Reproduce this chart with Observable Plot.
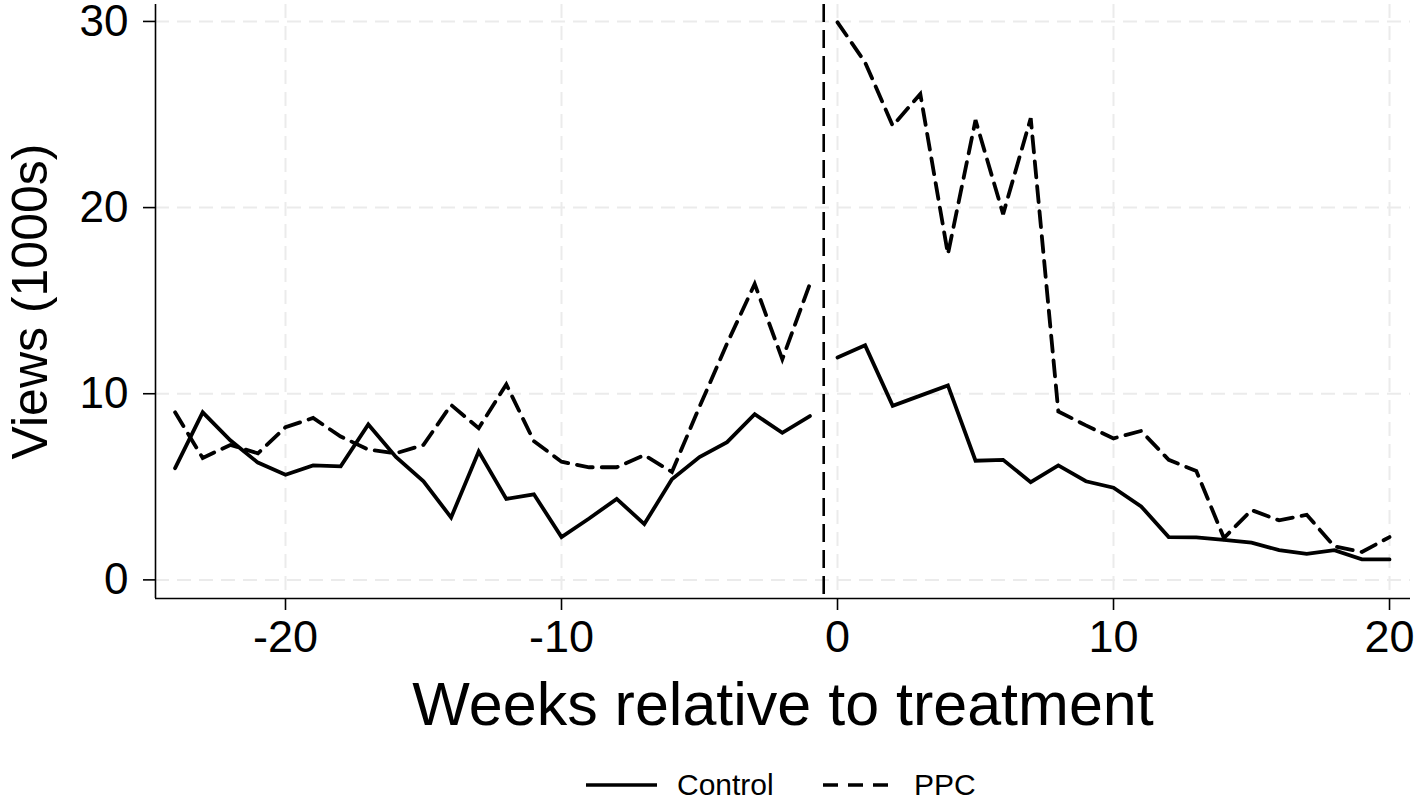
<!DOCTYPE html>
<html>
<head>
<meta charset="utf-8">
<script src="https://cdn.jsdelivr.net/npm/d3@7"></script>
<script src="https://cdn.jsdelivr.net/npm/@observablehq/plot@0.6"></script>
<style>
  html, body { margin: 0; padding: 0; background: #fff; }
  body { width: 1426px; font-family: "Liberation Sans", Arial, Helvetica, sans-serif; }
  #legend { position: relative; height: 61px; }
  #legend .item { position: absolute; top: 18px; display: flex; align-items: center; font-size: 30px; color: #000; }
  #legend svg { margin-right: 20px; }
</style>
</head>
<body>
<div id="chart"></div>
<div id="legend"></div>
<script>
const weeks = [-24,-23,-22,-21,-20,-19,-18,-17,-16,-15,-14,-13,-12,-11,-10,-9,-8,-7,-6,-5,-4,-3,-2,-1,
               0,1,2,3,4,5,6,7,8,9,10,11,12,13,14,15,16,17,18,19,20];
const control = [6.0,9.0,7.5,6.3,5.65,6.15,6.1,8.35,6.6,5.3,3.35,6.9,4.35,4.6,2.3,3.3,4.35,3.0,5.4,6.6,7.4,8.9,7.9,8.8,
                 11.95,12.6,9.35,9.9,10.45,6.4,6.45,5.25,6.15,5.3,4.95,3.95,2.3,2.28,2.15,2.0,1.6,1.4,1.6,1.1,1.1];
const ppc = [9.0,6.55,7.25,6.8,8.2,8.7,7.7,7.0,6.8,7.25,9.4,8.15,10.5,7.45,6.35,6.05,6.05,6.7,5.8,9.3,12.7,15.9,11.85,15.9,
             29.95,27.8,24.4,26.1,17.5,24.7,19.65,24.8,9.05,8.3,7.6,8.0,6.45,5.85,2.25,3.75,3.2,3.5,1.8,1.5,2.3];
const seriesNames = ["Control", "PPC"];
const xTicks = [-20, -10, 0, 10, 20];
const yTicks = [0, 10, 20, 30];
const xDomain = [-24.71, 20.76];
const yDomain = [-1.0, 30.91];
const treatmentLine = -0.5;
const xLabel = "Weeks relative to treatment";
const yLabel = "Views (1000s)";

const rows = [];
weeks.forEach((w, i) => {
  rows.push({week: w, value: control[i], series: seriesNames[0], period: w < 0 ? "pre" : "post"});
  rows.push({week: w, value: ppc[i], series: seriesNames[1], period: w < 0 ? "pre" : "post"});
});
const controlRows = rows.filter(d => d.series === seriesNames[0]);
const ppcRows = rows.filter(d => d.series === seriesNames[1]);

const gridStyle = {stroke: "#ebebeb", strokeOpacity: 1, strokeWidth: 2, strokeDasharray: "14,8"};

const chart = Plot.plot({
  width: 1426,
  height: 750,
  marginLeft: 155,
  marginRight: 16,
  marginTop: 4,
  marginBottom: 152,
  style: {fontFamily: '"Liberation Sans", Arial, Helvetica, sans-serif', background: "#fff", color: "#000"},
  x: {domain: xDomain, ticks: xTicks},
  y: {domain: yDomain, ticks: yTicks},
  marks: [
    Plot.gridX(xTicks, gridStyle),
    Plot.gridY(yTicks, gridStyle),
    Plot.ruleX([xDomain[0]], {stroke: "#000", strokeWidth: 1.6}),
    Plot.ruleY([yDomain[0]], {stroke: "#000", strokeWidth: 1.6}),
    Plot.axisX(xTicks, {tickSize: 12, tickPadding: 10, fontSize: 45, label: null, stroke: "#000", strokeWidth: 1.6, tickFormat: d => String(d).replace("−", "-")}),
    Plot.axisY(yTicks, {tickSize: 12, tickPadding: 15, fontSize: 44, label: null, stroke: "#000", strokeWidth: 1.6}),
    Plot.ruleX([treatmentLine], {stroke: "#000", strokeWidth: 2.6, strokeDasharray: "18,8"}),
    Plot.line(controlRows, {x: "week", y: "value", z: "period", stroke: "#000", strokeWidth: 3.8, strokeLinejoin: "miter", strokeMiterlimit: 3}),
    Plot.line(ppcRows, {x: "week", y: "value", z: "period", stroke: "#000", strokeWidth: 3.8, strokeDasharray: "16,9", strokeLinejoin: "miter", strokeMiterlimit: 3}),
    Plot.text([xLabel], {frameAnchor: "bottom", dy: 107, fontSize: 61, textAnchor: "middle", lineAnchor: "middle", fill: "#000"}),
    Plot.text([yLabel], {frameAnchor: "left", dx: -125, rotate: -90, fontSize: 50, textAnchor: "middle", lineAnchor: "middle", fill: "#000"})
  ]
});
document.getElementById("chart").appendChild(chart);

// Legend
const legend = d3.select("#legend");
const legendItems = [
  {name: seriesNames[0], dash: null, left: 586},
  {name: seriesNames[1], dash: "15,10", left: 823}
];
legendItems.forEach(it => {
  const item = legend.append("div").attr("class", "item").style("left", it.left + "px");
  const s = item.append("svg").attr("width", 71).attr("height", 20);
  const ln = s.append("line").attr("x1", 0).attr("x2", 71).attr("y1", 10).attr("y2", 10)
    .attr("stroke", "#000").attr("stroke-width", 3.6);
  if (it.dash) ln.attr("stroke-dasharray", it.dash);
  item.append("span").text(it.name);
});
</script>
</body>
</html>
